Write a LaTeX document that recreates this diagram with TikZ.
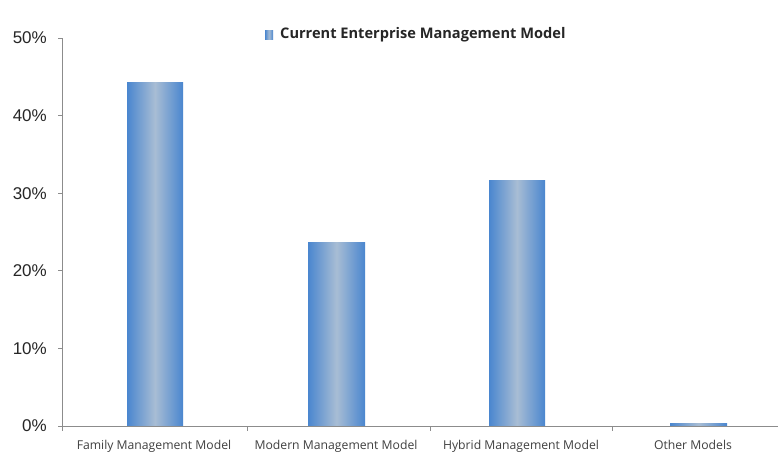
\documentclass[tikz,border=0pt]{standalone}
\usepackage{fontspec}
\setmainfont{Open Sans}
\newfontfamily\axisfont{Liberation Sans}
\definecolor{bardark}{HTML}{4A86CF}
\definecolor{barlight}{HTML}{A8BDD4}
\definecolor{axisgray}{HTML}{8C8C8C}
\tikzset{
  bar/.style={left color=bardark, right color=bardark, middle color=barlight, draw=none},
  axisline/.style={draw=axisgray, line width=0.9pt},
  ylab/.style={anchor=east, font=\axisfont\fontsize{17}{17}\selectfont, text=black!85, inner sep=0pt},
  xlab/.style={anchor=base, font=\fontsize{12.2}{14}\selectfont, text=black!75, inner sep=0pt},
}
\begin{document}
\begin{tikzpicture}[x=1pt,y=-1pt]
\useasboundingbox[fill=white] (0,0) rectangle (778,453);
% axes
\coordinate (o) at (62.5,426);
\coordinate (top) at (62.5,38);
\coordinate (xend) at (778,426);
\draw[axisline] (top) -- (o) -- (xend);
\foreach \v/\y in {0/426,10/348.4,20/270.8,30/193.2,40/115.6,50/38}{
  \coordinate (yt\v) at (62.5,\y);
  \draw[axisline] (yt\v) -- ++(-5,0);
  \node[ylab] (yl\v) at (47,\y) {\v\%};
}
\foreach \i/\x in {1/62.5,2/247,3/430,4/612}{
  \coordinate (xt\i) at (\x,426);
  \draw[axisline] (xt\i) -- ++(0,5);
}
% bars
\fill[bar] (127,82.2) rectangle (183,426);
\fill[bar] (308,242.1) rectangle (365,426);
\fill[bar] (489,180.0) rectangle (545,426);
\fill[bar] (670,423.5) rectangle (727,426);
\draw[axisline] (o) -- (xend);
% category labels
\node[xlab] (c1) at (154,449) {Family Management Model};
\node[xlab] (c2) at (336,449) {Modern Management Model};
\node[xlab] (c3) at (521,449) {Hybrid Management Model};
\node[xlab] (c4) at (693,449) {Other Models};
% legend
\fill[bar] (265,30) rectangle (273,39);
\node[anchor=west, font=\bfseries\fontsize{14.6}{16}\selectfont, text=black!85, inner sep=0pt] (leg) at (280,34.5) {Current Enterprise Management Model};
\end{tikzpicture}
\end{document}
